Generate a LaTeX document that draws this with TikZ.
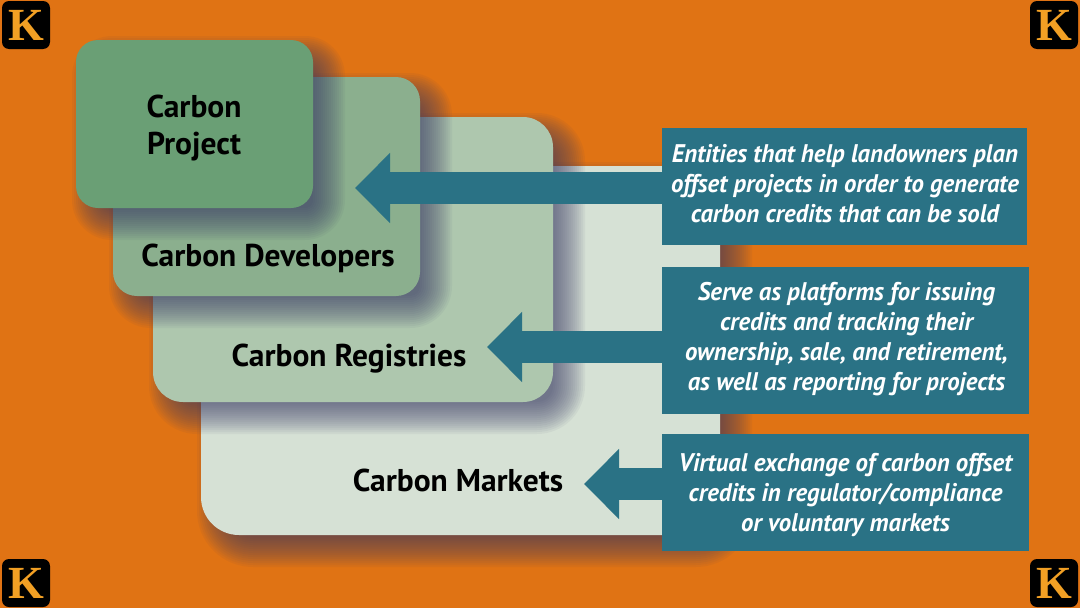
\documentclass[tikz,border=0pt]{standalone}
\usepackage{fontspec}
\setmainfont{PT Sans}
\newfontfamily\notefont{PT Sans}[FakeStretch=.97]
\newfontfamily\logofont{Liberation Serif}
\usepackage{tikz}
\usetikzlibrary{arrows.meta,calc,positioning}
\definecolor{bgorange}{HTML}{E07314}
\definecolor{projgreen}{HTML}{6A9F75}
\definecolor{devgreen}{HTML}{8BAF8E}
\definecolor{reggreen}{HTML}{AEC7AE}
\definecolor{mktgreen}{HTML}{D6E1D5}
\definecolor{noteteal}{HTML}{2A7285}
\definecolor{shadowink}{HTML}{3A3A66}
\definecolor{logofire}{HTML}{F2A024}
\tikzset{
    stackbox/.style = {rectangle, inner sep=0pt, outer sep=0pt},
    stacklabel/.style = {align=center, text=black, font=\fontsize{31.5}{37}\selectfont\bfseries},
    note/.style = {rectangle, fill=noteteal, inner sep=0pt, outer sep=0pt},
    notelabel/.style = {text=white, align=center, font=\notefont\fontsize{25.5}{30}\selectfont\bfseries\itshape},
    bigarrow/.style = {draw=noteteal, line width=31.5pt, -{Triangle[length=35pt,width=68pt]}},
    logo/.style = {rectangle, fill=black, rounded corners=7pt, minimum size=48pt, inner sep=0pt,
        text=logofire, font=\logofont\fontsize{46}{46}\selectfont\bfseries}
}
% box with its soft shadow: name, left, top, right, bottom, radius, colour
\newcommand{\softbox}[7]{
    \foreach \g in {-14,-12,...,18}{
        \pgfmathsetmacro{\shr}{max(#6+\g,2)}
        \fill[shadowink, fill opacity=.053, rounded corners=\shr pt]
            ({#2+14-\g},{#3+14-\g}) rectangle ({#4+14+\g},{#5+14+\g});
    }
    \node [stackbox, fill=#7, rounded corners=#6pt, minimum width={(#4-#2)*1pt}, minimum height={(#5-#3)*1pt}]
        (#1) at ({(#2+#4)/2},{(#3+#5)/2}) {};
}
\begin{document}
\begin{tikzpicture}[x=1pt,y=-1pt]
        \fill[bgorange] (0,0) rectangle (1080,608);
        \useasboundingbox (0,0) rectangle (1080,608);
        \softbox{markets}{201}{166}{720}{535}{38}{mktgreen}
        \softbox{registries}{153}{117}{553}{402}{30}{reggreen}
        \softbox{developers}{113}{77}{420}{296}{24}{devgreen}
        \softbox{project}{76}{40}{313}{208}{22}{projgreen}
        \node [stacklabel] (projectlbl) at (194,128) {Carbon\\Project};
        \node [stacklabel, anchor=base] (developerslbl) at (268,266) {Carbon Developers};
        \node [stacklabel, anchor=base] (registrieslbl) at (349,366) {Carbon Registries};
        \node [stacklabel, anchor=base] (marketslbl) at (458,491) {Carbon Markets};
        \node [note, minimum width=365pt, minimum height=117pt] (note1) at (844.5,186.5) {};
        \node [note, minimum width=367pt, minimum height=147pt] (note2) at (845.5,340.5) {};
        \node [note, minimum width=367pt, minimum height=117pt] (note3) at (845.5,492.5) {};
        \node [notelabel] (note1lbl) at (845,184)
            {Entities that help landowners plan\\offset projects in order to generate\\carbon credits that can be sold};
        \node [notelabel] (note2lbl) at (846.5,339.5)
            {Serve as platforms for issuing\\credits and tracking their\\ownership, sale, and retirement,\\as well as reporting for projects};
        \node [notelabel] (note3lbl) at (845.5,495)
            {Virtual exchange of carbon offset\\credits in regulator/compliance\\or voluntary markets};
        \coordinate (tip1) at (355,188);
        \coordinate (tip2) at (487,347);
        \coordinate (tip3) at (584,484);
        \draw[bigarrow] (note1.west |- tip1) -- (tip1);
        \draw[bigarrow] (note2.west |- tip2) -- (tip2);
        \draw[bigarrow] (note3.west |- tip3) -- (tip3);
        \node [logo] (logotl) at (26,25) {K};
        \node [logo] (logotr) at (1054,25) {K};
        \node [logo] (logobl) at (26,583) {K};
        \node [logo] (logobr) at (1054,583) {K};
    \end{tikzpicture}
\end{document}
